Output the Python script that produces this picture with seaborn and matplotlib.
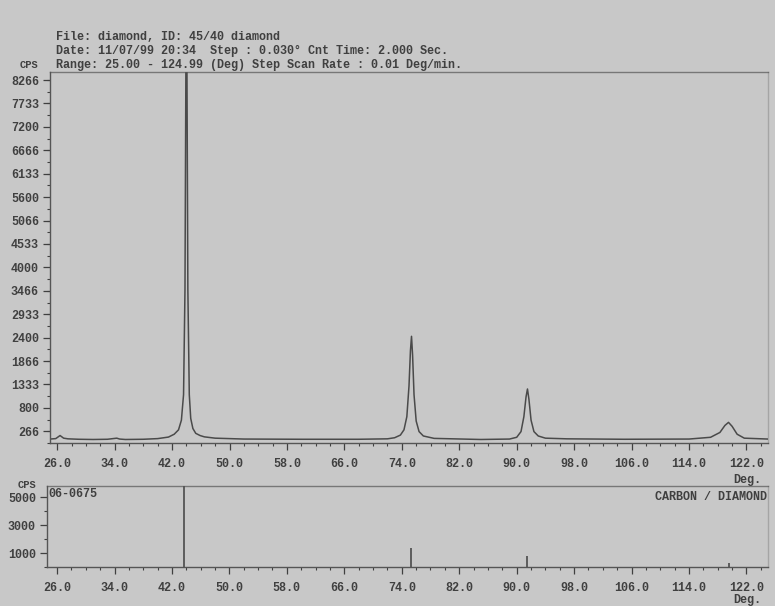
import matplotlib
matplotlib.use("Agg")
import matplotlib.pyplot as plt
import seaborn as sns
import pandas as pd
from matplotlib.ticker import MultipleLocator

two_theta = [25.0, 25.8, 26.4, 26.9, 27.5, 29.0, 31.0, 33.0, 34.3, 34.7, 35.5, 38.0, 40.0,
             41.5, 42.3, 42.9, 43.3, 43.6, 43.8, 43.95, 44.05, 44.2, 44.4, 44.6, 44.9,
             45.3, 45.9, 46.5, 48.0, 52.0, 60.0, 68.0, 72.0, 73.0, 73.8, 74.3, 74.7, 75.0,
             75.2, 75.35, 75.5, 75.7, 76.0, 76.4, 77.0, 78.5, 85.0, 89.0, 90.0, 90.6,
             91.0, 91.3, 91.5, 91.7, 92.0, 92.4, 93.0, 94.0, 97.0, 105.0, 114.0, 117.0,
             118.3, 119.0, 119.5, 120.0, 120.7, 121.7, 125.0]
cps = [90, 100, 170, 110, 95, 85, 80, 85, 110, 90, 80, 85, 100,
       135, 200, 300, 520, 1100, 3500, 9500, 9500, 3500, 1100, 560, 330,
       220, 170, 140, 110, 90, 85, 85, 95, 120, 180, 300, 600, 1300,
       2100, 2430, 2000, 1100, 500, 260, 160, 105, 80, 90, 130, 260,
       600, 1050, 1230, 1000, 520, 260, 160, 110, 95, 85, 90, 130,
       240, 400, 470, 380, 200, 110, 90]

# reference pattern 06-0675 carbon / diamond
ref_pos = [43.7, 75.3, 91.5, 119.5]
ref_cps = [6000, 1360, 790, 290]

main_yticks = [266, 800, 1333, 1866, 2400, 2933, 3466, 4000, 4533, 5066, 5600,
               6133, 6666, 7200, 7733, 8266]
ref_yticks = [1000, 3000, 5000]
xticks = [26, 34, 42, 50, 58, 66, 74, 82, 90, 98, 106, 114, 122]
xlabels = ["%.1f" % t for t in xticks]

header = ["File: diamond, ID: 45/40 diamond",
          "Date: 11/07/99 20:34  Step : 0.030\u00b0 Cnt Time: 2.000 Sec.",
          "Range: 25.00 - 124.99 (Deg) Step Scan Rate : 0.01 Deg/min."]

paper = "#c8c8c8"
ink = "#404040"
sns.set_theme(style="white", rc={"axes.facecolor": paper, "figure.facecolor": paper,
                                 "axes.edgecolor": ink, "xtick.color": ink,
                                 "ytick.color": ink, "text.color": ink})
plt.rcParams["font.family"] = ["Liberation Mono", "DejaVu Sans Mono"]
plt.rcParams["font.weight"] = "bold"
FS = 8.5

fig = plt.figure(figsize=(7.75, 6.06), dpi=100)
ax = fig.add_axes([50 / 775, 1 - 443 / 606, 718 / 775, 371 / 606])
ax2 = fig.add_axes([47 / 775, 1 - 567 / 606, 721 / 775, 81 / 606])

df = pd.DataFrame({"two_theta": two_theta, "cps": cps})
sns.lineplot(data=df, x="two_theta", y="cps", ax=ax, color="#4a4a4a", lw=1.1,
             estimator=None, sort=False)
ax.set_xlim(25, 125)
ax.set_ylim(0, 8450)

ax2.vlines(ref_pos, 0, ref_cps, color="#4a4a4a", lw=1.2)
ax2.set_xlim(24.6, 125)
ax2.set_ylim(0, 5800)

for a in (ax, ax2):
    a.set_xlabel("")
    a.set_ylabel("")
    a.set_xticks(xticks)
    a.set_xticklabels(xlabels, fontsize=FS)
    a.xaxis.set_minor_locator(MultipleLocator(2))
    a.tick_params(axis="both", which="major", direction="out", length=5, width=0.9,
                  labelsize=FS, bottom=True, left=True, pad=6)
    a.tick_params(axis="both", which="minor", direction="out", length=2.5, width=0.8,
                  bottom=True, left=True)
    for s in a.spines.values():
        s.set_linewidth(1.0)
        s.set_color("#555555")
    a.spines["right"].set_alpha(0.3)
    a.spines["top"].set_alpha(0.7)

ax.set_yticks(main_yticks)
ax.set_yticklabels([str(v) for v in main_yticks], fontsize=FS)
ax.yaxis.set_minor_locator(MultipleLocator(533.33 / 2))
ax2.set_yticks(ref_yticks)
ax2.set_yticklabels([str(v) for v in ref_yticks], fontsize=FS)
ax2.yaxis.set_minor_locator(MultipleLocator(1000))
ax.tick_params(axis="y", pad=3)
ax2.tick_params(axis="y", pad=3)

for i, line in enumerate(header):
    fig.text(56 / 775, 1 - (37 + 14 * i) / 606, line, fontsize=FS, va="center", ha="left")
fig.text(20 / 775, 1 - 65 / 606, "CPS", fontsize=7.5, va="center", ha="left")
fig.text(18 / 775, 1 - 485 / 606, "CPS", fontsize=7.5, va="center", ha="left")
fig.text(747 / 775, 1 - 480 / 606, "Deg.", fontsize=FS, va="center", ha="center")
fig.text(747 / 775, 1 - 600 / 606, "Deg.", fontsize=FS, va="center", ha="center")
ax2.text(0.002, 0.9, "06-0675", transform=ax2.transAxes, fontsize=FS, va="center", ha="left")
ax2.text(0.999, 0.87, "CARBON / DIAMOND", transform=ax2.transAxes, fontsize=FS,
         va="center", ha="right")

fig.savefig("out.png", dpi=100, facecolor=paper)
